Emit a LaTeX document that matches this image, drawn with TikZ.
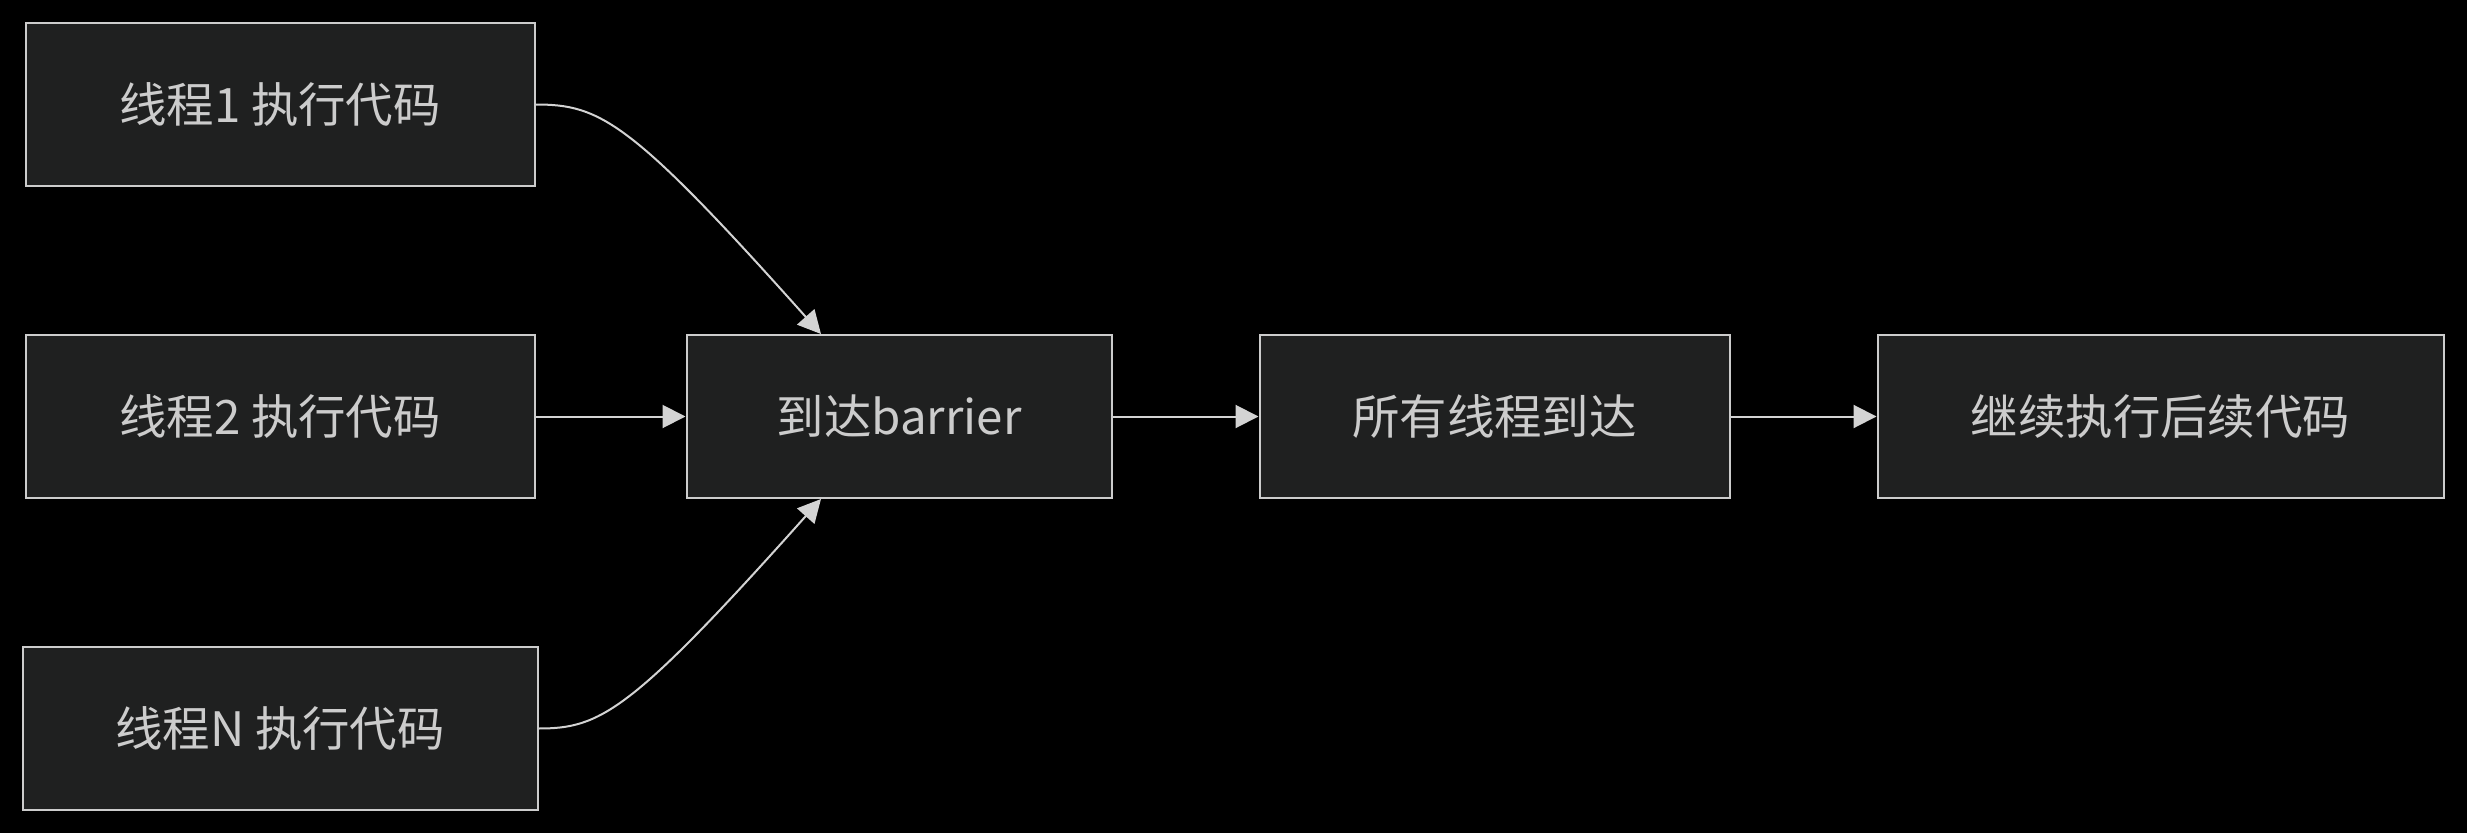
\documentclass[tikz,border=0pt]{standalone}
\usepackage{fontspec}
\setmainfont{Noto Sans CJK SC}
\usetikzlibrary{arrows.meta}
\definecolor{boxfill}{HTML}{1F2020}
\definecolor{boxline}{HTML}{CCCCCC}
\definecolor{linkcol}{HTML}{D3D3D3}
\tikzset{
  stepbox/.style={draw=boxline, fill=boxfill, line width=0.04cm, text=boxline, minimum height=3.26cm, inner sep=0pt, font=\fontsize{27}{32}\selectfont},
  link/.style={draw=linkcol, line width=0.04cm, -{Triangle[length=0.46cm,width=0.46cm]}}
}
\begin{document}
\begin{tikzpicture}
\fill[black] (0,0) rectangle (49.34,-16.66);
\node[stepbox, minimum width=10.18cm] (t1) at (5.6,-2.09) {线程1 执行代码};
\node[stepbox, minimum width=10.18cm] (t2) at (5.6,-8.33) {线程2 执行代码};
\node[stepbox, minimum width=10.3cm] (tn) at (5.6,-14.57) {线程N 执行代码};
\node[stepbox, minimum width=8.5cm] (bar) at (17.98,-8.33) {到达barrier};
\node[stepbox, minimum width=9.4cm] (all) at (29.89,-8.33) {所有线程到达};
\node[stepbox, minimum width=11.32cm] (cont) at (43.21,-8.33) {继续执行后续代码};
\draw[link] (t1.east) .. controls (12,-2.09) and (12.6,-2.4) .. ([xshift=-1.56cm]bar.north);
\draw[link] (t2.east) -- (bar.west);
\draw[link] (tn.east) .. controls (12,-14.57) and (12.6,-14.26) .. ([xshift=-1.56cm]bar.south);
\draw[link] (bar.east) -- (all.west);
\draw[link] (all.east) -- (cont.west);
\end{tikzpicture}
\end{document}
